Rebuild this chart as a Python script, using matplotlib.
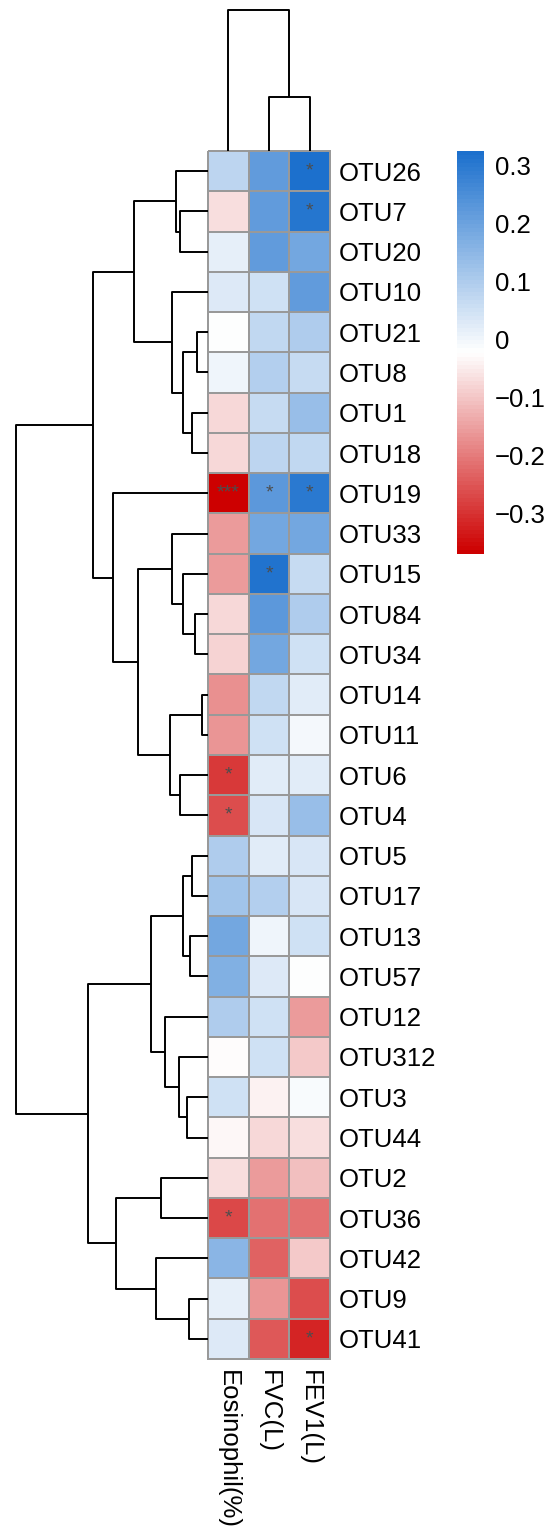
import numpy as np
import matplotlib
matplotlib.use("Agg")
import matplotlib.pyplot as plt
from matplotlib.colors import LinearSegmentedColormap, Normalize

plt.rcParams['font.family'] = ['Liberation Sans', 'DejaVu Sans']

# rows, top to bottom, as clustered
otu_labels = ["OTU26", "OTU7", "OTU20", "OTU10", "OTU21", "OTU8", "OTU1", "OTU18",
              "OTU19", "OTU33", "OTU15", "OTU84", "OTU34", "OTU14", "OTU11", "OTU6",
              "OTU4", "OTU5", "OTU17", "OTU13", "OTU57", "OTU12", "OTU312", "OTU3",
              "OTU44", "OTU2", "OTU36", "OTU42", "OTU9", "OTU41"]
traits = ["Eosinophil(%)", "FVC(L)", "FEV1(L)"]

# correlation values per trait
eos = [0.081, -0.068, 0.012, 0.029, -0.016, 0.001, -0.075, -0.075,
       -0.370, -0.155, -0.155, -0.072, -0.079, -0.172, -0.162, -0.290,
       -0.259, 0.099, 0.123, 0.192, 0.168, 0.099, -0.026, 0.047,
       -0.033, -0.065, -0.266, 0.151, 0.012, 0.029]
fvc = [0.220, 0.220, 0.220, 0.047, 0.074, 0.092, 0.064, 0.081,
       0.227, 0.186, 0.314, 0.227, 0.192, 0.071, 0.053, 0.019,
       0.036, 0.022, 0.092, 0.001, 0.029, 0.047, 0.053, -0.040,
       -0.075, -0.155, -0.214, -0.238, -0.162, -0.249]
fev1 = [0.3245, 0.307, 0.186, 0.220, 0.099, 0.064, 0.133, 0.071,
        0.300, 0.186, 0.064, 0.099, 0.053, 0.019, -0.006, 0.019,
        0.133, 0.036, 0.036, 0.053, -0.020, -0.155, -0.099, -0.013,
        -0.065, -0.110, -0.214, -0.099, -0.259, -0.318]

# significance marks
eos_sig = [""] * 8 + ["***"] + [""] * 6 + ["*", "*"] + [""] * 9 + ["*"] + [""] * 3
fvc_sig = [""] * 8 + ["*", "", "*"] + [""] * 19
fev1_sig = ["*", "*"] + [""] * 6 + ["*"] + [""] * 20 + ["*"]

# row dendrogram merges: (child a, child b, height); leaves 0..29, new nodes from 30
row_merges = [(1, 2, 0.144), (0, 30, 0.168), (4, 5, 0.059), (6, 7, 0.082),
              (32, 33, 0.132), (3, 34, 0.1875), (31, 35, 0.385), (11, 12, 0.068),
              (10, 37, 0.132), (9, 38, 0.1875), (13, 14, 0.030), (15, 16, 0.146),
              (40, 41, 0.198), (39, 42, 0.363), (8, 43, 0.493), (36, 44, 0.600),
              (17, 18, 0.085), (19, 20, 0.094), (46, 47, 0.128), (23, 24, 0.108),
              (22, 49, 0.149), (21, 50, 0.224), (48, 51, 0.297), (25, 26, 0.246),
              (28, 29, 0.097), (27, 54, 0.271), (53, 55, 0.481), (52, 56, 0.623),
              (45, 57, 1.0)]
col_merges = [(1, 2, 0.383), (0, 3, 1.0)]

vmin, vmax = -0.370, 0.3245
cbar_ticks = [-0.3, -0.2, -0.1, 0, 0.1, 0.2, 0.3]
cbar_labels = ["\u22120.3", "\u22120.2", "\u22120.1", "0", "0.1", "0.2", "0.3"]

W, H = 548, 1531
fig = plt.figure(figsize=(W / 100, H / 100), dpi=100)
fig.patch.set_facecolor("white")


def px_axes(x0, y0, x1, y1):
    return fig.add_axes([x0 / W, 1 - y1 / H, (x1 - x0) / W, (y1 - y0) / H])


def draw_dendro(ax, merges, n, side):
    pos = {i: i + 0.5 for i in range(n)}
    hgt = {i: 0.0 for i in range(n)}
    for k, (a, b, h) in enumerate(merges):
        hs = [hgt[a], h, h, hgt[b]]
        ps = [pos[a], pos[a], pos[b], pos[b]]
        if side == "left":
            ax.plot(hs, ps, color="black", lw=1.4, clip_on=False, solid_capstyle="butt")
        else:
            ax.plot(ps, hs, color="black", lw=1.4, clip_on=False, solid_capstyle="butt")
        pos[n + k] = (pos[a] + pos[b]) / 2
        hgt[n + k] = h


n_rows = len(otu_labels)
data = np.column_stack([eos, fvc, fev1])
sig = np.column_stack([eos_sig, fvc_sig, fev1_sig])

cmap = LinearSegmentedColormap.from_list("rwb", ["#CD0000", "#FFFFFF", "#1C70CD"], N=100)
norm = Normalize(vmin=vmin, vmax=vmax)

# heatmap
ax = px_axes(208, 151, 330, 1359)
mesh = ax.pcolormesh(np.arange(4), np.arange(n_rows + 1), data, cmap=cmap, norm=norm,
                     edgecolors="#999999", linewidth=1.3)
mesh.set_clip_on(False)
ax.set_xlim(0, 3)
ax.set_ylim(n_rows, 0)
for i in range(n_rows):
    for j in range(3):
        if sig[i, j]:
            ax.text(j + 0.5, i + 0.5, sig[i, j], ha="center", va="center",
                    color="#4D4D4D", fontsize=14)
for s in ax.spines.values():
    s.set_visible(False)
ax.yaxis.tick_right()
ax.set_yticks(np.arange(n_rows) + 0.5)
ax.set_yticklabels(otu_labels, fontsize=18.5)
ax.set_xticks(np.arange(3) + 0.5)
ax.set_xticklabels(traits, rotation=-90, ha="center", va="top", fontsize=18.5)
ax.tick_params(length=0)
ax.tick_params(axis="y", pad=6)
ax.tick_params(axis="x", pad=8)

# row dendrogram
axr = px_axes(16, 151, 208, 1359)
draw_dendro(axr, row_merges, n_rows, "left")
axr.set_xlim(1.0, 0.0)
axr.set_ylim(n_rows, 0)
axr.axis("off")

# column dendrogram
axc = px_axes(208, 10, 330, 151)
draw_dendro(axc, col_merges, 3, "top")
axc.set_xlim(0, 3)
axc.set_ylim(0, 1.0)
axc.axis("off")

# colour legend
cax = px_axes(457, 151, 484, 554)
cbar = fig.colorbar(mesh, cax=cax, ticks=cbar_ticks)
cbar.outline.set_visible(False)
cbar.set_ticklabels(cbar_labels)
cax.tick_params(length=0, pad=8, labelsize=18.5)

fig.savefig("out.png", dpi=100)
